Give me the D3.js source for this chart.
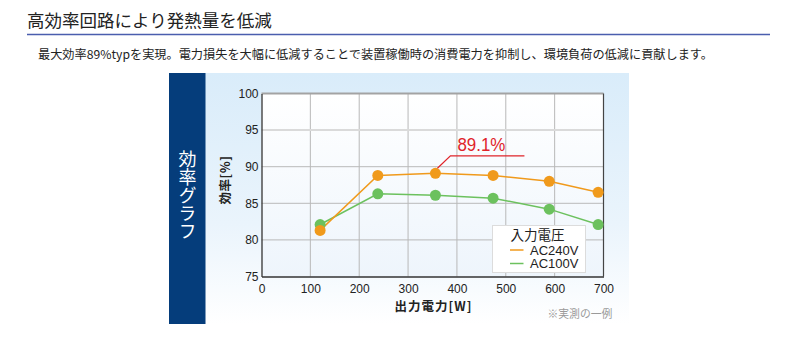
<!DOCTYPE html>
<html lang="ja">
<head>
<meta charset="utf-8">
<script src="https://cdn.jsdelivr.net/npm/d3@7"></script>
<style>
  html, body { margin: 0; padding: 0; background: #fff; }
  svg { display: block; }
  .jp { font-family: "Noto Sans CJK JP", "Noto Sans", sans-serif; }
  .num { font-family: "Liberation Sans", Arial, "Noto Sans CJK JP", sans-serif; }
</style>
</head>
<body>
<svg id="chart" width="798" height="341"></svg>
<script>
// Output power [W] at each measured point
const outputPower = [120, 238, 356, 474, 589, 689];
// Efficiency [%] per input voltage
const effAC240 = [81.3, 88.8, 89.1, 88.8, 88.0, 86.5];
const effAC100 = [82.1, 86.3, 86.1, 85.7, 84.2, 82.1];
const seriesNames = ["AC240V", "AC100V"];
const xTicks = [0, 100, 200, 300, 400, 500, 600, 700];
const yTicks = [75, 80, 85, 90, 95, 100];
const peakValue = 89.1;

const titleText = "高効率回路により発熱量を低減";
const leadText = "最大効率89%typを実現。電力損失を大幅に低減することで装置稼働時の消費電力を抑制し、環境負荷の低減に貢献します。";
const sideLabel = "効率グラフ";
const yTitle = "効率[%]";
const xTitle = "出力電力[W]";
const legendTitle = "入力電圧";
const noteText = "※実測の一例";

const colors = { AC240V: "#f09a1c", AC100V: "#6cc15e" };

const svg = d3.select("#chart");
const defs = svg.append("defs");

// Heading and underline
svg.append("text").attr("class", "jp")
  .attr("x", 27).attr("y", 27)
  .attr("font-size", 17.5).attr("fill", "#222")
  .text(titleText);
svg.append("line")
  .attr("x1", 27).attr("x2", 770).attr("y1", 34.5).attr("y2", 34.5)
  .attr("stroke", "#4a5eae").attr("stroke-width", 1.5);
svg.append("text").attr("class", "jp")
  .attr("x", 38).attr("y", 58.5)
  .attr("font-size", 12.2).attr("fill", "#222")
  .attr("textLength", 675).attr("lengthAdjust", "spacingAndGlyphs")
  .text(leadText);

// Panel background
const panelGrad = defs.append("linearGradient").attr("id", "panelGrad")
  .attr("x1", 0).attr("y1", 0).attr("x2", 0).attr("y2", 1);
panelGrad.append("stop").attr("offset", "0%").attr("stop-color", "#d9ecfa");
panelGrad.append("stop").attr("offset", "60%").attr("stop-color", "#eaf4fc");
panelGrad.append("stop").attr("offset", "100%").attr("stop-color", "#ffffff");
svg.append("rect")
  .attr("x", 169).attr("y", 73).attr("width", 460).attr("height", 251)
  .attr("fill", "url(#panelGrad)");

// Side label bar with vertical caption
svg.append("rect")
  .attr("x", 169).attr("y", 73).attr("width", 36.5).attr("height", 251)
  .attr("fill", "#053d7b");
svg.append("text")
  .attr("class", "jp")
  .attr("x", 187.5).attr("y", 150)
  .attr("writing-mode", "vertical-rl")
  .style("writing-mode", "vertical-rl")
  .attr("font-size", 18).attr("fill", "#fff")
  .text(sideLabel);

// Scales
const x = d3.scaleLinear().domain([0, 700]).range([261.5, 603.5]);
const y = d3.scaleLinear().domain([75, 100]).range([276.5, 93.5]);

// Plot background
const plotGrad = defs.append("linearGradient").attr("id", "plotGrad")
  .attr("x1", 0).attr("y1", 0).attr("x2", 0).attr("y2", 1);
plotGrad.append("stop").attr("offset", "0%").attr("stop-color", "#ffffff");
plotGrad.append("stop").attr("offset", "100%").attr("stop-color", "#eef5fc");
svg.append("rect")
  .attr("x", x(0)).attr("y", y(100))
  .attr("width", x(700) - x(0)).attr("height", y(75) - y(100))
  .attr("fill", "url(#plotGrad)");

// Grid
const grid = svg.append("g");
grid.selectAll("line.v")
  .data(xTicks.filter(d => d > 0 && d < 700))
  .join("line").attr("class", "v")
  .attr("x1", d => x(d)).attr("x2", d => x(d))
  .attr("y1", y(100)).attr("y2", y(75))
  .attr("stroke", "#b9b9b9").attr("stroke-width", 1);
grid.selectAll("line.h")
  .data(yTicks.filter(d => d > 75 && d < 100))
  .join("line").attr("class", "h")
  .attr("x1", x(0)).attr("x2", x(700))
  .attr("y1", d => y(d)).attr("y2", d => y(d))
  .attr("stroke", d => d === 95 ? "#dadada" : "#b9b9b9")
  .attr("stroke-width", d => d === 95 ? 2 : 1);
// Top and right frame
svg.append("line")
  .attr("x1", x(0)).attr("x2", x(700)).attr("y1", y(100)).attr("y2", y(100))
  .attr("stroke", "#a3a3a3").attr("stroke-width", 2);
svg.append("line")
  .attr("x1", x(700)).attr("x2", x(700)).attr("y1", y(100)).attr("y2", y(75))
  .attr("stroke", "#444").attr("stroke-width", 1.2);

// Axes
const xAxis = svg.append("g")
  .attr("transform", `translate(0,${y(75)})`)
  .call(d3.axisBottom(x).tickValues(xTicks).tickSize(0).tickPadding(8).tickFormat(d3.format("d")));
const yAxis = svg.append("g")
  .attr("transform", `translate(${x(0)},0)`)
  .call(d3.axisLeft(y).tickValues(yTicks).tickSize(0).tickPadding(3).tickFormat(d3.format("d")));
[xAxis, yAxis].forEach(a => {
  a.select(".domain").attr("stroke", "#333").attr("stroke-width", 1.3);
  a.selectAll("text").attr("class", "num").attr("font-size", 12).attr("fill", "#222");
});

// Axis titles
svg.append("text").attr("class", "jp")
  .attr("transform", `translate(230,${(y(75) + y(100)) / 2 - 5}) rotate(-90)`)
  .attr("text-anchor", "middle")
  .attr("font-size", 12.5).attr("font-weight", "bold").attr("fill", "#222")
  .attr("letter-spacing", 0.5)
  .text(yTitle);
svg.append("text").attr("class", "jp")
  .attr("x", (x(0) + x(700)) / 2 + 1).attr("y", 311)
  .attr("text-anchor", "middle")
  .attr("font-size", 12.5).attr("font-weight", "bold").attr("fill", "#222")
  .attr("letter-spacing", 1)
  .text(xTitle);

// Series
const series = [
  { name: "AC240V", values: effAC240 },
  { name: "AC100V", values: effAC100 }
];
const line = d3.line().x(d => x(d[0])).y(d => y(d[1]));
const seriesOrder = [series[1], series[0]];
seriesOrder.forEach(s => {
  const pts = outputPower.map((p, i) => [p, s.values[i]]);
  svg.append("path")
    .datum(pts)
    .attr("d", line)
    .attr("fill", "none")
    .attr("stroke", colors[s.name])
    .attr("stroke-width", 1.5);
});
seriesOrder.forEach(s => {
  const pts = outputPower.map((p, i) => [p, s.values[i]]);
  svg.append("g").selectAll("circle")
    .data(pts)
    .join("circle")
    .attr("cx", d => x(d[0])).attr("cy", d => y(d[1]))
    .attr("r", 5.5)
    .attr("fill", colors[s.name]);
});

// Peak annotation
const peakIdx = effAC240.indexOf(peakValue);
const px = x(outputPower[peakIdx]), py = y(effAC240[peakIdx]);
svg.append("polyline")
  .attr("points", [[px + 2, py - 5], [px + 15, py - 17.5], [px + 89, py - 17.5]].map(p => p.join(",")).join(" "))
  .attr("fill", "none").attr("stroke", "#e0242a").attr("stroke-width", 1.2);
svg.append("text").attr("class", "num")
  .attr("x", px + 22).attr("y", py - 22)
  .attr("font-size", 18).attr("fill", "#e0242a")
  .attr("textLength", 48).attr("lengthAdjust", "spacingAndGlyphs")
  .text(d3.format(".1f")(peakValue) + "%");

// Legend
const lg = svg.append("g").attr("transform", "translate(492.5,225.5)");
lg.append("rect").attr("width", 93).attr("height", 47)
  .attr("fill", "#fff").attr("stroke", "#dcdcdc");
lg.append("text").attr("class", "jp")
  .attr("x", 18).attr("y", 14)
  .attr("font-size", 13.5).attr("fill", "#222")
  .text(legendTitle);
seriesNames.forEach((n, i) => {
  const yy = 24.5 + i * 13.5;
  lg.append("line")
    .attr("x1", 17.5).attr("x2", 31).attr("y1", yy).attr("y2", yy)
    .attr("stroke", colors[n]).attr("stroke-width", 1.5);
  lg.append("text").attr("class", "num")
    .attr("x", 37.5).attr("y", yy + 4.5)
    .attr("font-size", 13).attr("fill", "#222")
    .text(n);
});

// Footnote
svg.append("text").attr("class", "jp")
  .attr("x", 547.5).attr("y", 318)
  .attr("font-size", 10.8).attr("fill", "#9a9a9a")
  .text(noteText);
</script>
</body>
</html>
